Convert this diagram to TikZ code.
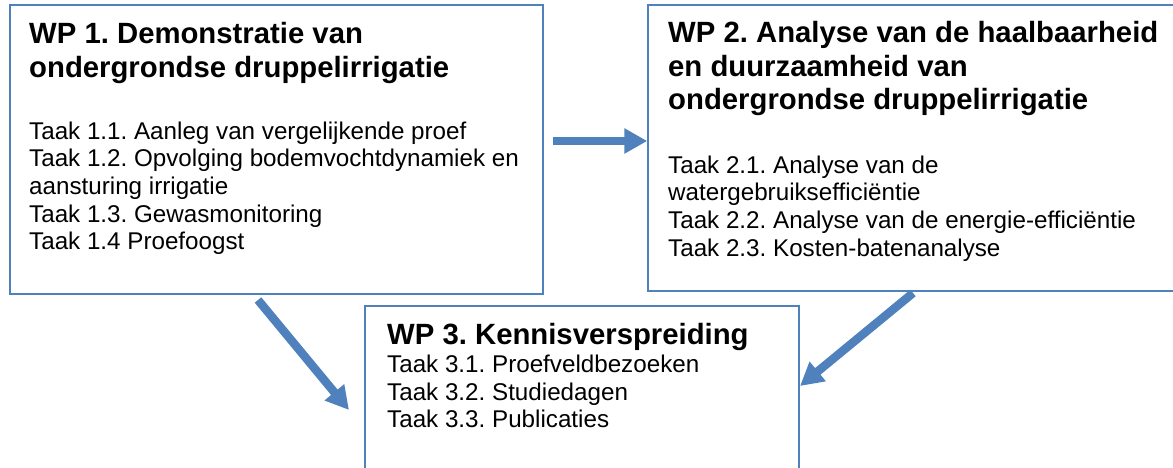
\documentclass[tikz,border=0pt]{standalone}
\usepackage{fontspec}
\setmainfont{Liberation Sans}
\usepackage{tikz}
\usetikzlibrary{arrows.meta,positioning}
\definecolor{wpblue}{RGB}{79,129,189}

\begin{document}
\begin{tikzpicture}[
  x=1pt, y=-1pt,
  box/.style={draw=wpblue, rectangle, line width=1.5pt, inner sep=0pt},
  wptitle/.style={anchor=north west, inner sep=0pt, align=left, font=\fontsize{29.3}{33.4}\selectfont\bfseries\frenchspacing},
  wptask/.style={anchor=north west, inner sep=0pt, align=left, font=\fontsize{24.2}{27.6}\selectfont\frenchspacing},
  >={Triangle[length=23pt,width=24pt]},
  bigarrow/.style={->, color=wpblue, line width=8.5pt},
]
\useasboundingbox (0,0) rectangle (1173,468);
\clip (0,0) rectangle (1173,468);

% ============ WP 1 box (left) ============
\node[box, minimum width=533pt, minimum height=289pt] (wpone) at (276.5,149.5) {};
\node[wptitle] (wponetitle) at (29,22.5) {WP 1. Demonstratie van\\ondergrondse druppelirrigatie};
\node[wptask] (wponetasks) at (29,121.5) {Taak 1.1. Aanleg van vergelijkende proef\\
  Taak 1.2. Opvolging bodemvochtdynamiek en\\aansturing irrigatie\\
  Taak 1.3. Gewasmonitoring\\Taak 1.4 Proefoogst};

% ============ WP 2 box (right, runs off the page) ============
\node[box, minimum width=530pt, minimum height=286pt] (wptwo) at (913,148) {};
\node[wptitle] (wptwotitle) at (668,21.5) {WP 2. Analyse van de haalbaarheid\\en duurzaamheid van\\ondergrondse druppelirrigatie};
\node[wptask] (wptwotasks) at (668,155.5) {Taak 2.1. Analyse van de\\watergebruiksefficiëntie\\
  Taak 2.2. Analyse van de energie-efficiëntie\\Taak 2.3. Kosten-batenanalyse};

% ============ WP 3 box (bottom, runs off the page) ============
\node[box, minimum width=434pt, minimum height=172pt] (wpthree) at (582,392) {};
\node[wptitle] (wpthreetitle) at (387,323) {WP 3. Kennisverspreiding};
\node[wptask] (wpthreetasks) at (387,355) {Taak 3.1. Proefveldbezoeken\\Taak 3.2. Studiedagen\\Taak 3.3. Publicaties};

% ===================== ARROWS =====================
\coordinate (hstart) at (553,141);
\coordinate (dstartone) at (258,300);
\coordinate (dendone) at (349,410);
\coordinate (dstarttwo) at (913,293);
\coordinate (dendtwo) at (800,386);

% WP 1 -> WP 2
\draw[bigarrow] (hstart) -- (hstart -| wptwo.west);

% WP 1 -> WP 3
\draw[bigarrow] (dstartone) -- (dendone);

% WP 2 -> WP 3
\draw[bigarrow] (dstarttwo) -- (dendtwo);

\end{tikzpicture}
\end{document}
